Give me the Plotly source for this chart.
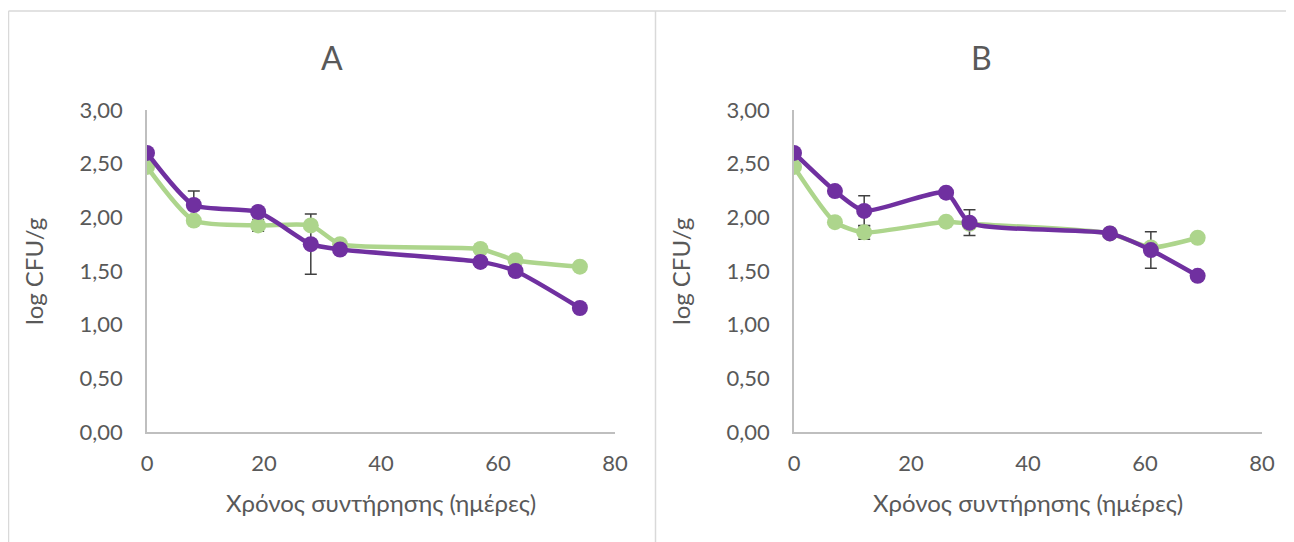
import plotly.graph_objects as go

# ---- Data ----
A_days = [0, 8, 19, 28, 33, 57, 63, 74]
A_green = [2.47, 1.97, 1.925, 1.925, 1.75, 1.705, 1.60, 1.54]
A_green_err = [0, 0, 0.055, 0, 0, 0, 0, 0]
A_purple = [2.60, 2.115, 2.05, 1.75, 1.70, 1.585, 1.50, 1.155]
A_purple_err = [0, 0.13, 0, 0.28, 0, 0, 0, 0]

B_days = [0, 7, 12, 26, 30, 54, 61, 69]
B_green = [2.47, 1.955, 1.86, 1.96, 1.94, 1.85, 1.72, 1.81]
B_green_err = [0, 0, 0.065, 0, 0, 0, 0, 0]
B_purple = [2.60, 2.245, 2.06, 2.23, 1.95, 1.85, 1.695, 1.455]
B_purple_err = [0, 0, 0.14, 0, 0.12, 0, 0.17, 0]

y_ticks = [0, 0.5, 1.0, 1.5, 2.0, 2.5, 3.0]
y_ticklabels = ["0,00", "0,50", "1,00", "1,50", "2,00", "2,50", "3,00"]
x_ticks = [0, 20, 40, 60, 80]
titles = ["A", "B"]
x_title = "Χρόνος συντήρησης (ημέρες)"
y_title = "log CFU/g"

GREEN = "#ADD58C"
PURPLE = "#7030A0"
ERR = "#404040"
TXT = "#595959"
FONT = "Lato"

W, H = 1294, 542
OFF = 8  # page body margin offset
fig = go.Figure()

panels = [
    ("x", "y", A_days, A_green, A_green_err, A_purple, A_purple_err),
    ("x2", "y2", B_days, B_green, B_green_err, B_purple, B_purple_err),
]

for xa, ya, days, g, ge, p, pe in panels:
    for vals, errs in ((g, ge), (p, pe)):
        fig.add_trace(go.Scatter(
            x=days, y=vals, xaxis=xa, yaxis=ya, mode="markers",
            marker=dict(size=1, opacity=0),
            error_y=dict(type="data", array=errs, visible=True,
                         color=ERR, thickness=1.5, width=6),
            showlegend=False, hoverinfo="skip"))
    fig.add_trace(go.Scatter(
        x=days, y=g, xaxis=xa, yaxis=ya, mode="lines+markers",
        line=dict(color=GREEN, width=4.5, shape="spline", smoothing=0.6),
        marker=dict(color=GREEN, size=16), showlegend=False))
    fig.add_trace(go.Scatter(
        x=days, y=p, xaxis=xa, yaxis=ya, mode="lines+markers",
        line=dict(color=PURPLE, width=4.5, shape="spline", smoothing=0.6),
        marker=dict(color=PURPLE, size=16), showlegend=False))

def px_x(v):
    return (v - OFF) / W

def px_y(v):
    return 1 - (v - OFF) / H

plot_left = [147, 794]
plot_right = [615, 1262]
top, bottom = 110, 432

axis_common = dict(showgrid=False, zeroline=False, showline=True,
                   linecolor="#BFBFBF", linewidth=1.5, automargin=False,
                   tickfont=dict(family=FONT, size=22, color=TXT),
                   ticks="")

layout = dict(
    width=W, height=H, margin=dict(l=0, r=0, t=0, b=0, pad=0, autoexpand=False),
    paper_bgcolor="white", plot_bgcolor="white",
    font=dict(family=FONT, color=TXT),
)
for i, suf in enumerate(["", "2"]):
    layout["xaxis" + suf] = dict(
        axis_common, domain=[px_x(plot_left[i]), px_x(plot_right[i])],
        range=[0, 80], tickvals=x_ticks, anchor="y" + suf,
        ticklabelstandoff=11)
    layout["yaxis" + suf] = dict(
        axis_common, domain=[px_y(bottom), px_y(top)], range=[0, 3],
        tickvals=y_ticks, ticktext=y_ticklabels, anchor="x" + suf,
        ticklabelstandoff=18)
fig.update_layout(**layout)

annotations = []
for i in range(2):
    common = dict(xref="paper", yref="paper", showarrow=False,
                  xanchor="center", yanchor="middle")
    annotations.append(dict(common, text=titles[i], x=px_x([332, 981][i]), y=px_y(57),
                            font=dict(family=FONT, size=32, color=TXT)))
    annotations.append(dict(common, text=x_title, x=px_x([381, 1028][i]), y=px_y(502),
                            font=dict(family=FONT, size=24, color=TXT)))
    annotations.append(dict(common, text=y_title, x=px_x([33, 680][i]), y=px_y(272),
                            textangle=-90,
                            font=dict(family=FONT, size=24, color=TXT)))
fig.update_layout(annotations=annotations)

BORDER = "#D9D9D9"
shapes = [
    dict(type="line", xref="paper", yref="paper", x0=px_x(8.5), x1=1, y0=px_y(11), y1=px_y(11),
         line=dict(color=BORDER, width=1.5)),
    dict(type="line", xref="paper", yref="paper", x0=px_x(8.5), x1=px_x(8.5), y0=0, y1=px_y(11),
         line=dict(color=BORDER, width=1.5)),
    dict(type="line", xref="paper", yref="paper", x0=px_x(655.5), x1=px_x(655.5), y0=0, y1=px_y(11),
         line=dict(color=BORDER, width=1.5)),
]
fig.update_layout(shapes=shapes)

fig.write_html("out.html")
